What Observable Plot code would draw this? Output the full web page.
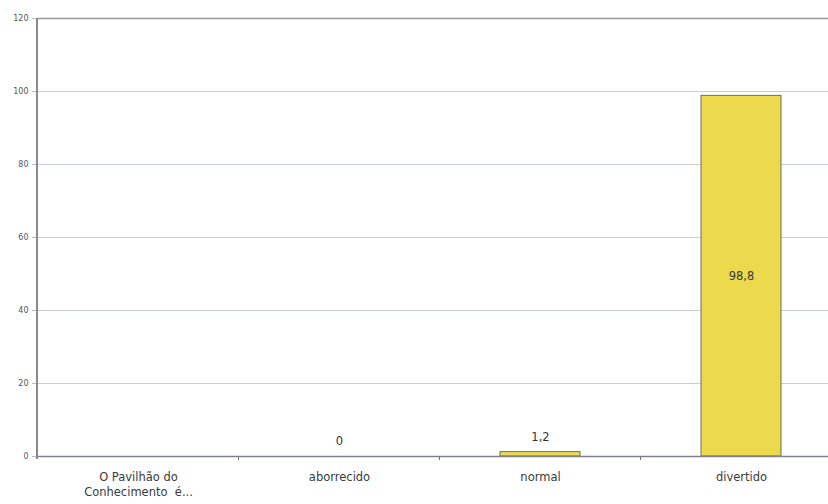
<!DOCTYPE html>
<html>
<head>
<meta charset="utf-8">
<script src="https://cdn.jsdelivr.net/npm/d3@7"></script>
<script src="https://cdn.jsdelivr.net/npm/@observablehq/plot@0.6"></script>
<style>
  html, body { margin: 0; padding: 0; background: #ffffff; }
  #chart { width: 828px; height: 504px; overflow: hidden; }
  #chart svg { display: block; }
</style>
</head>
<body>
<div id="chart"></div>
<script>
// Answers to "O Pavilhão do Conhecimento é..." (percent of respondents)
const categories = ["O Pavilhão do\nConhecimento  é...", "aborrecido", "normal", "divertido"];
const values = [null, 0, 1.2, 98.8];
const yTicks = [0, 20, 40, 60, 80, 100, 120];

const rows = categories.map((c, i) => ({cat: c, v: values[i]}));
const bars = rows.filter(d => d.v != null);
const fmt = v => String(v).replace(".", ",");

const W = 828, H = 504;
const plotLeft = 37, plotTop = 18, plotBottom = 456, step = 201.5;

const chart = Plot.plot({
  width: W,
  height: H,
  marginLeft: plotLeft,
  marginTop: plotTop,
  marginBottom: H - plotBottom,
  marginRight: 0,
  style: {background: "#ffffff", fontFamily: "DejaVu Sans, sans-serif"},
  x: {domain: categories, range: [plotLeft, plotLeft + categories.length * step],
      paddingInner: 0.6, paddingOuter: 0.3, align: 0.5, label: null},
  y: {domain: [0, 120], range: [plotBottom, plotTop], label: null},
  marks: [
    // horizontal gridlines
    Plot.gridY(yTicks.filter(t => t > 0 && t < 120), {stroke: "#c9cde0", strokeOpacity: 1, strokeWidth: 1}),
    // top border of plot area
    Plot.ruleY([120], {stroke: "#9a9a9a", strokeWidth: 1.5}),
    Plot.barY(bars, {x: "cat", y: "v", fill: "#ecd94c", stroke: "#6f6f5a", strokeWidth: 1}),
    // baseline
    Plot.ruleY([0], {stroke: "#7f8290", strokeWidth: 1.5}),
    Plot.axisY(yTicks, {
      tickSize: 5, tickPadding: 4, fontSize: 8, fill: "#555", stroke: "#bbb",
      tickFormat: d => String(d), label: null
    }),
    Plot.axisX({
      tickSize: 0, tickPadding: 13, fontSize: 11.5, fill: "#3a3a3a",
      lineHeight: 1.35, label: null
    }),
    // value labels: small values above the bar, large values centred inside
    Plot.text(bars.filter(d => d.v < 20), {
      x: "cat", y: "v", text: d => fmt(d.v), dy: -15,
      fontSize: 11.5, fill: "#333"
    }),
    Plot.text(bars.filter(d => d.v >= 20), {
      x: "cat", y: d => d.v / 2, text: d => fmt(d.v), dy: 0,
      fontSize: 11.5, fill: "#3a3a3a"
    })
  ]
});

// left axis line and band separators, placed through the chart's scales
const svg = d3.select(chart);
const ys = chart.scale("y");
const xs = chart.scale("x");
svg.append("line")
  .attr("x1", plotLeft).attr("x2", plotLeft)
  .attr("y1", ys.apply(120)).attr("y2", ys.apply(0) + 3)
  .attr("stroke", "#8a8a8a").attr("stroke-width", 2);
categories.slice(1).forEach(c => {
  const sep = xs.apply(c) + xs.bandwidth / 2 - xs.step / 2;
  svg.append("line")
    .attr("x1", sep).attr("x2", sep)
    .attr("y1", ys.apply(0)).attr("y2", ys.apply(0) + 4)
    .attr("stroke", "#777").attr("stroke-width", 1);
});

document.getElementById("chart").appendChild(chart);
</script>
</body>
</html>
